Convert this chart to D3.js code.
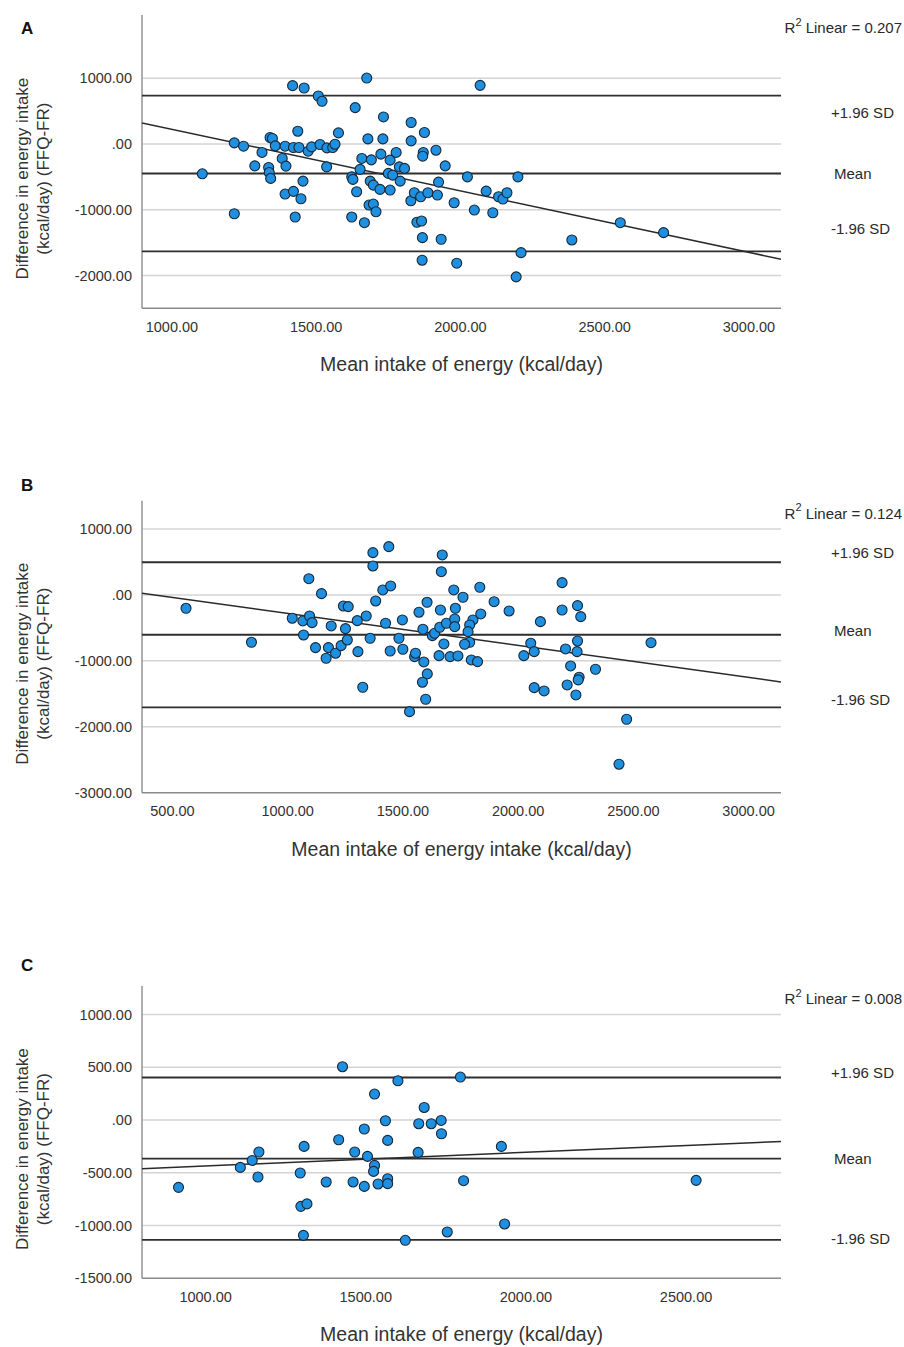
<!DOCTYPE html>
<html><head><meta charset="utf-8">
<script src="https://cdn.jsdelivr.net/npm/d3@7"></script>
<style>body{margin:0;background:#fff}svg{display:block}text{font-family:"Liberation Sans",Arial,sans-serif}</style>
</head><body><svg id="c" width="904" height="1347"></svg>
<script>
// ---------- Panel A ----------
const xA = [1107,1218,1250,1218,1289,1314,1337,1342,1350,1339,1344,1360,1384,1394,1397,1394,1423,1420,1460,1423,1438,1442,1429,1449,1456,1474,1486,1509,1522,1515,1538,1539,1559,1567,1579,1625,1629,1637,1642,1625,1654,1660,1677,1681,1689,1693,1700,1685,1700,1709,1669,1726,1723,1735,1733,1752,1758,1758,1767,1779,1790,1793,1808,1831,1831,1877,1873,1871,1917,1949,1926,1830,1842,1864,1889,1922,1851,1867,1870,1935,1869,2070,2026,2201,1980,2050,2091,2114,2134,2149,2163,2388,2556,2706,2212,1989,2195];
const yA = [-455,15,-35,-1062,-334,-130,-358,97,82,-434,-525,-30,-221,-35,-338,-763,-722,886,850,-55,193,-55,-1112,-834,-566,-111,-46,728,648,-9,-349,-61,-55,-5,167,-501,-540,552,-728,-1112,-388,-221,1001,76,-566,-243,-627,-930,-915,-1032,-1198,-156,-692,410,76,-449,-247,-702,-475,-130,-349,-566,-373,325,46,173,-130,-187,-96,-334,-581,-865,-743,-804,-743,-778,-1192,-1173,-1426,-1450,-1769,890,-501,-501,-895,-1006,-718,-1047,-804,-839,-743,-1461,-1198,-1350,-1654,-1814,-2022];
const xDomainA = [898, 3113], yDomainA = [-2500, 1960];
const xTicksA = [1000,1500,2000,2500,3000], yTicksA = [1000,0,-1000,-2000];
const linesA = [735, -450, -1635];          // +1.96 SD, mean, -1.96 SD
const labelAtA = [466, -450, -1294];        // label anchors (data units)
const regA = [1159.5, -0.936];              // intercept, slope
const r2A = "0.207";
const xTitleA = "Mean intake of energy (kcal/day)";

// ---------- Panel B ----------
const xB = [561,845,1022,1068,1097,1108,1071,1094,1123,1149,1169,1179,1191,1210,1234,1244,1265,1253,1261,1304,1307,1343,1360,1328,1372,1372,1384,1415,1427,1441,1449,1447,1485,1500,1502,1531,1553,1557,1572,1589,1593,1608,1587,1601,1607,1630,1640,1659,1662,1665,1669,1673,1680,1691,1707,1723,1763,1836,1730,1727,1727,1806,1840,1792,1785,1792,1770,1741,1799,1826,1898,1963,2099,2193,2193,2260,2274,2057,2072,2027,2208,2260,2258,2230,2338,2267,2263,2072,2115,2215,2253,2579,2473,2440];
const yB = [-202,-718,-353,-394,-319,-420,-607,247,-799,20,-960,-799,-470,-884,-769,-167,-177,-511,-683,-390,-860,-319,-657,-1400,642,440,-91,76,-429,733,137,-850,-657,-379,-824,-1770,-936,-884,-262,-520,-1016,-1198,-1324,-1582,-111,-617,-581,-921,-490,-228,353,607,-743,-429,-936,76,-35,117,-202,-364,-481,-379,-288,-455,-557,-718,-748,-925,-986,-1012,-102,-243,-405,187,-228,-162,-329,-733,-860,-921,-819,-698,-860,-1077,-1127,-1248,-1289,-1406,-1456,-1365,-1517,-724,-1886,-2568];
const xDomainB = [370, 3143], yDomainB = [-3000, 1430];
const xTicksB = [500,1000,1500,2000,2500,3000], yTicksB = [1000,0,-1000,-2000,-3000];
const linesB = [496, -604, -1704];
const labelAtB = [637, -546, -1593];
const regB = [205.6, -0.4854];
const r2B = "0.124";
const xTitleB = "Mean intake of energy intake (kcal/day)";

// ---------- Panel C ----------
const xC = [917,1110,1147,1168,1165,1297,1309,1299,1318,1307,1378,1417,1429,1467,1462,1497,1497,1507,1529,1529,1526,1540,1563,1570,1570,1570,1602,1625,1667,1665,1684,1706,1737,1738,1756,1797,1925,1807,1935,2533];
const yC = [-638,-449,-383,-303,-540,-502,-250,-818,-795,-1093,-587,-187,505,-303,-587,-85,-629,-345,246,-430,-487,-606,-7,-193,-556,-603,372,-1140,-35,-307,119,-35,-4,-130,-1061,407,-250,-575,-985,-572];
const xDomainC = [803, 2798], yDomainC = [-1500, 1270];
const xTicksC = [1000,1500,2000,2500], yTicksC = [1000,500,0,-500,-1000,-1500];
const linesC = [403, -366, -1136];
const labelAtC = [451, -366, -1125];
const regC = [-564.8, 0.1293];
const r2C = "0.008";
const xTitleC = "Mean intake of energy (kcal/day)";

const lineNames = ["+1.96 SD", "Mean", "-1.96 SD"];
const yTitle = ["Difference in energy intake", "(kcal/day) (FFQ-FR)"];

const svg = d3.select("#c");
const fmt = d => d === 0 ? ".00" : d.toFixed(2);

function panel(o){
  const left = 142, right = 781;
  const x = d3.scaleLinear().domain(o.xd).range([left, right]);
  const y = d3.scaleLinear().domain(o.yd).range([o.bottom, o.top]);
  const g = svg.append("g");
  const id = "clip" + o.letter;
  g.append("clipPath").attr("id", id).append("rect")
    .attr("x", left).attr("y", o.top).attr("width", right-left).attr("height", o.bottom-o.top);

  // gridlines
  g.append("g").selectAll("line").data(o.yt.filter(t => y(t) < o.bottom - 1)).join("line")
    .attr("x1", left).attr("x2", right).attr("y1", d => y(d)).attr("y2", d => y(d))
    .attr("stroke", "#d4d4d4").attr("stroke-width", 1.5);

  // y axis labels via d3 axis
  const ya = d3.axisLeft(y).tickValues(o.yt).tickFormat(fmt).tickSize(0).tickPadding(10);
  const yg = g.append("g").attr("transform", `translate(${left},0)`).call(ya);
  yg.select(".domain").remove();
  yg.selectAll("text").attr("font-size", 14.5).attr("fill", "#333")
    .attr("font-family", '"Liberation Sans", Arial, sans-serif');

  const xa = d3.axisBottom(x).tickValues(o.xt).tickFormat(fmt).tickSize(0).tickPadding(13);
  const xg = g.append("g").attr("transform", `translate(0,${o.bottom})`).call(xa);
  xg.select(".domain").remove();
  xg.selectAll("text").attr("font-size", 14.5).attr("fill", "#333")
    .attr("font-family", '"Liberation Sans", Arial, sans-serif');

  // axis lines
  g.append("line").attr("x1", left).attr("x2", left).attr("y1", o.top).attr("y2", o.bottom)
    .attr("stroke", "#9a9a9a").attr("stroke-width", 1.6);
  g.append("line").attr("x1", left).attr("x2", right).attr("y1", o.bottom).attr("y2", o.bottom)
    .attr("stroke", "#8a8a8a").attr("stroke-width", 1.6);

  // reference lines
  g.append("g").selectAll("line").data(o.lines).join("line")
    .attr("x1", left).attr("x2", right).attr("y1", d => y(d)).attr("y2", d => y(d))
    .attr("stroke", "#2e2e2e").attr("stroke-width", 1.8);

  // regression line
  const xd = o.xd;
  g.append("line").attr("clip-path", `url(#${id})`)
    .attr("x1", x(xd[0])).attr("y1", y(o.reg[0] + o.reg[1]*xd[0]))
    .attr("x2", x(xd[1])).attr("y2", y(o.reg[0] + o.reg[1]*xd[1]))
    .attr("stroke", "#2a2a2a").attr("stroke-width", 1.5);

  // points
  g.append("g").selectAll("circle").data(o.xs.map((v,i) => [v, o.ys[i]])).join("circle")
    .attr("cx", d => x(d[0])).attr("cy", d => y(d[1])).attr("r", 5)
    .attr("fill", "#1f8fe0").attr("stroke", "#16283a").attr("stroke-width", 1.1);

  // side labels
  g.append("g").selectAll("text").data(lineNames).join("text")
    .attr("x", (d,i) => i === 1 ? 834 : 831).attr("y", (d,i) => y(o.labelAt[i]))
    .attr("dy", "0.35em").attr("font-size", 15).attr("fill", "#2a2a2a").text(d => d);

  // R2
  const r = g.append("text").attr("x", 902).attr("y", o.top + 13).attr("dy", "0.35em")
    .attr("text-anchor", "end").attr("font-size", 15).attr("fill", "#2a2a2a");
  r.append("tspan").text("R");
  r.append("tspan").attr("font-size", 11).attr("dy", "-0.7em").text("2");
  r.append("tspan").attr("dy", "0.5em").text(" Linear = " + o.r2);

  // letter
  g.append("text").attr("x", 21).attr("y", o.letterY).attr("font-size", 17)
    .attr("font-weight", "bold").attr("fill", "#111").text(o.letter);

  // titles
  g.append("text").attr("x", (left+right)/2).attr("y", o.bottom + 56).attr("dy", "0.35em")
    .attr("text-anchor", "middle").attr("font-size", 19.5).attr("fill", "#333").text(o.xTitle);
  const cy = (o.top + o.bottom)/2 + 17;
  yTitle.forEach((t, i) => {
    g.append("text").attr("transform", `translate(${22.5 + i*20.6},${cy}) rotate(-90)`)
      .attr("dy", "0.35em").attr("text-anchor", "middle").attr("font-size", 17)
      .attr("fill", "#333").text(t);
  });
}

panel({letter:"A", letterY:34, top:15, bottom:308.3, xd:xDomainA, yd:yDomainA, xt:xTicksA, yt:yTicksA,
  lines:linesA, labelAt:labelAtA, reg:regA, r2:r2A, xs:xA, ys:yA, xTitle:xTitleA});
panel({letter:"B", letterY:491, top:500.7, bottom:792.7, xd:xDomainB, yd:yDomainB, xt:xTicksB, yt:yTicksB,
  lines:linesB, labelAt:labelAtB, reg:regB, r2:r2B, xs:xB, ys:yB, xTitle:xTitleB});
panel({letter:"C", letterY:971, top:986, bottom:1278.3, xd:xDomainC, yd:yDomainC, xt:xTicksC, yt:yTicksC,
  lines:linesC, labelAt:labelAtC, reg:regC, r2:r2C, xs:xC, ys:yC, xTitle:xTitleC});
</script></body></html>
